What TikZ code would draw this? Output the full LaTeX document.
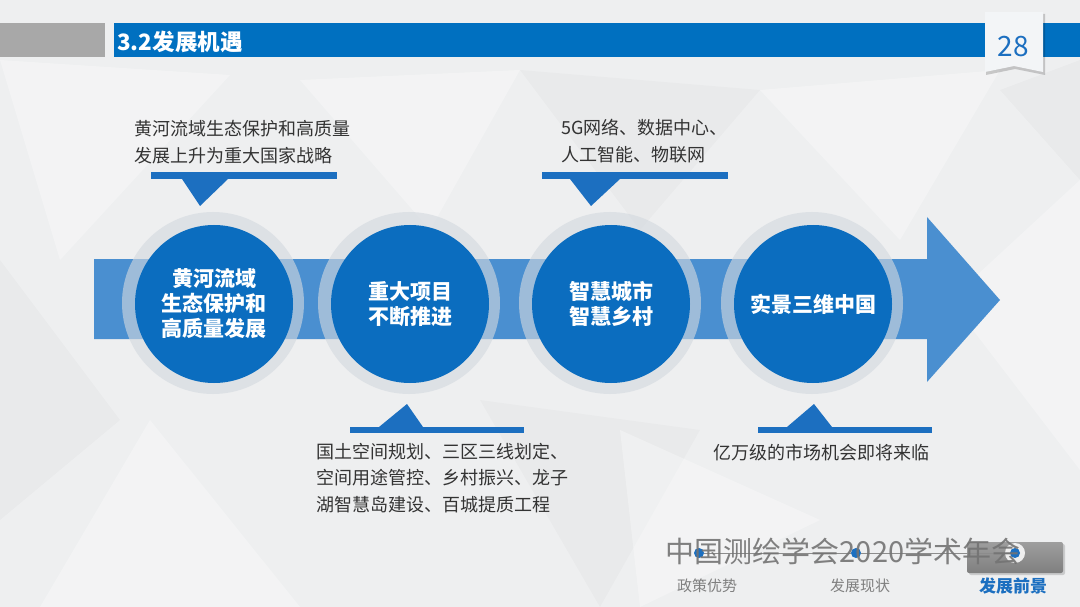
\documentclass[tikz,border=0pt]{standalone}
\usepackage{fontspec}
\setmainfont{Noto Sans CJK SC}
\usetikzlibrary{shadows}
\definecolor{bgc}{HTML}{EEEFF0}
\definecolor{hblue}{HTML}{0070C0}
\definecolor{cblue}{HTML}{0B6DBF}
\definecolor{bandc}{HTML}{4A8FD0}
\definecolor{barc}{HTML}{1C6FC0}
\definecolor{txtc}{HTML}{333333}
\definecolor{navg}{HTML}{7F7F7F}
\definecolor{haloc}{HTML}{D3D9DF}
\definecolor{tagc}{HTML}{F3F5F7}
\tikzset{
  bigcircle/.style={circle, fill=cblue, minimum size=158pt, inner sep=0pt, text=white,
    font=\fontsize{21}{25}\selectfont\bfseries, align=center},
  halo/.style={circle, fill=haloc, opacity=0.62, minimum size=182pt, inner sep=0pt},
  calltext/.style={anchor=west, inner sep=0pt, text=txtc, align=left,
    font=\fontsize{18}{26.5}\selectfont},
  callbar/.style={fill=barc},
  navdot/.style={circle, fill=barc, minimum size=10pt, inner sep=0pt},
  navlabel/.style={text=navg, font=\fontsize{15}{18}\selectfont, inner sep=0pt},
  facet/.style={fill=white, opacity=0.3},
  facetd/.style={fill=black, opacity=0.02}
}
\begin{document}
\begin{tikzpicture}[x=1pt, y=-1pt]
\useasboundingbox (0,0) rectangle (1080,607);
% background
\fill[bgc] (0,0) rectangle (1080,607);
\fill[facet] (0,60) -- (230,75) -- (60,260) -- cycle;
\fill[facet] (300,80) -- (520,70) -- (430,230) -- cycle;
\fill[facetd] (520,70) -- (760,90) -- (640,230) -- cycle;
\fill[facet] (760,90) -- (1000,70) -- (900,240) -- cycle;
\fill[facetd] (0,260) -- (120,420) -- (0,520) -- cycle;
\fill[facet] (150,420) -- (300,607) -- (40,607) -- cycle;
\fill[facetd] (480,400) -- (700,430) -- (600,607) -- cycle;
\fill[facet] (950,300) -- (1080,180) -- (1080,470) -- cycle;
\fill[facetd] (1000,90) -- (1080,60) -- (1080,180) -- cycle;
\fill[facet] (620,430) -- (820,520) -- (640,607) -- cycle;
% header
\fill[fill=black!34] (0,23) rectangle (105,57);
\fill[hblue] (114,23) rectangle (1080,57);
\node[anchor=west, text=white, inner sep=0pt, font=\fontsize{22.5}{24}\selectfont\bfseries] (title) at (117,42) {3.2发展机遇};
% page tag
\fill[black, opacity=0.18] (986,14) -- (1045,14) -- (1045,75) -- (1015,69) -- (986,75) -- cycle;
\fill[tagc] (985,12) -- (1043,12) -- (1043,72) -- (1014,66) -- (985,72) -- cycle;
\node[text=barc, inner sep=0pt, font=\fontsize{28}{30}\selectfont] (pnum) at (1013,47) {28};
% arrow band
\fill[bandc] (94,259) -- (927,259) -- (927,217) -- (1000,300) -- (927,382) -- (927,339) -- (94,339) -- cycle;
% halos and circles
\node[halo] (h1) at (213,303) {};
\node[halo] (h2) at (409,303) {};
\node[halo] (h3) at (610,303) {};
\node[halo] (h4) at (812,303) {};
\node[bigcircle] (c1) at (214,304) {黄河流域\\生态保护和\\高质量发展};
\node[bigcircle] (c2) at (410,304) {重大项目\\不断推进};
\node[bigcircle] (c3) at (611,304) {智慧城市\\智慧乡村};
\node[bigcircle] (c4) at (813,304) {实景三维中国};
% top callouts
\node[calltext] (t1) at (134,142) {黄河流域生态保护和高质量\\发展上升为重大国家战略};
\fill[callbar] (151,172) rectangle (337,179);
\fill[callbar] (182,179) -- (228,179) -- (200,206) -- cycle;
\node[calltext] (t3) at (561,141) {5G网络、数据中心、\\人工智能、物联网};
\fill[callbar] (542,172) rectangle (728,179);
\fill[callbar] (570,179) -- (620,179) -- (591,206) -- cycle;
% bottom callouts
\fill[callbar] (350,427) rectangle (524,433);
\fill[callbar] (379,427) -- (423,427) -- (407,404) -- cycle;
\node[calltext] (t2) at (316,478) {国土空间规划、三区三线划定、\\空间用途管控、乡村振兴、龙子\\湖智慧岛建设、百城提质工程};
\fill[callbar] (758,427) rectangle (932,433);
\fill[callbar] (787,427) -- (832,427) -- (814,404) -- cycle;
\node[calltext] (t4) at (713,453) {亿万级的市场机会即将来临};
% footer navigation
\fill[black, opacity=0.15, rounded corners=2pt] (969,544) rectangle (1065,575);
\shade[top color=black!38, bottom color=black!50, rounded corners=2pt] (967,542) rectangle (1063,573);
\node[navdot] (d1) at (699,553) {};
\node[navdot] (d2) at (856,553) {};
\node[circle, fill=white, opacity=0.85, minimum size=20pt, inner sep=0pt] (d3h) at (1015,553) {};
\node[navdot] (d3) at (1015,553) {};
\draw[black!45, line width=0.9pt] (d1) -- (d2) -- (d3);
\node[text=black!55, opacity=0.9, inner sep=0pt, font=\fontsize{29}{30}\selectfont] (wm) at (843,551) {中国测绘学会2020学术年会};
\node[navlabel] (n1) at (707,586) {政策优势};
\node[navlabel] (n2) at (860,586) {发展现状};
\node[inner sep=0pt, text=barc, font=\fontsize{17}{20}\selectfont\bfseries] (n3) at (1013,586) {发展前景};
\end{tikzpicture}
\end{document}
